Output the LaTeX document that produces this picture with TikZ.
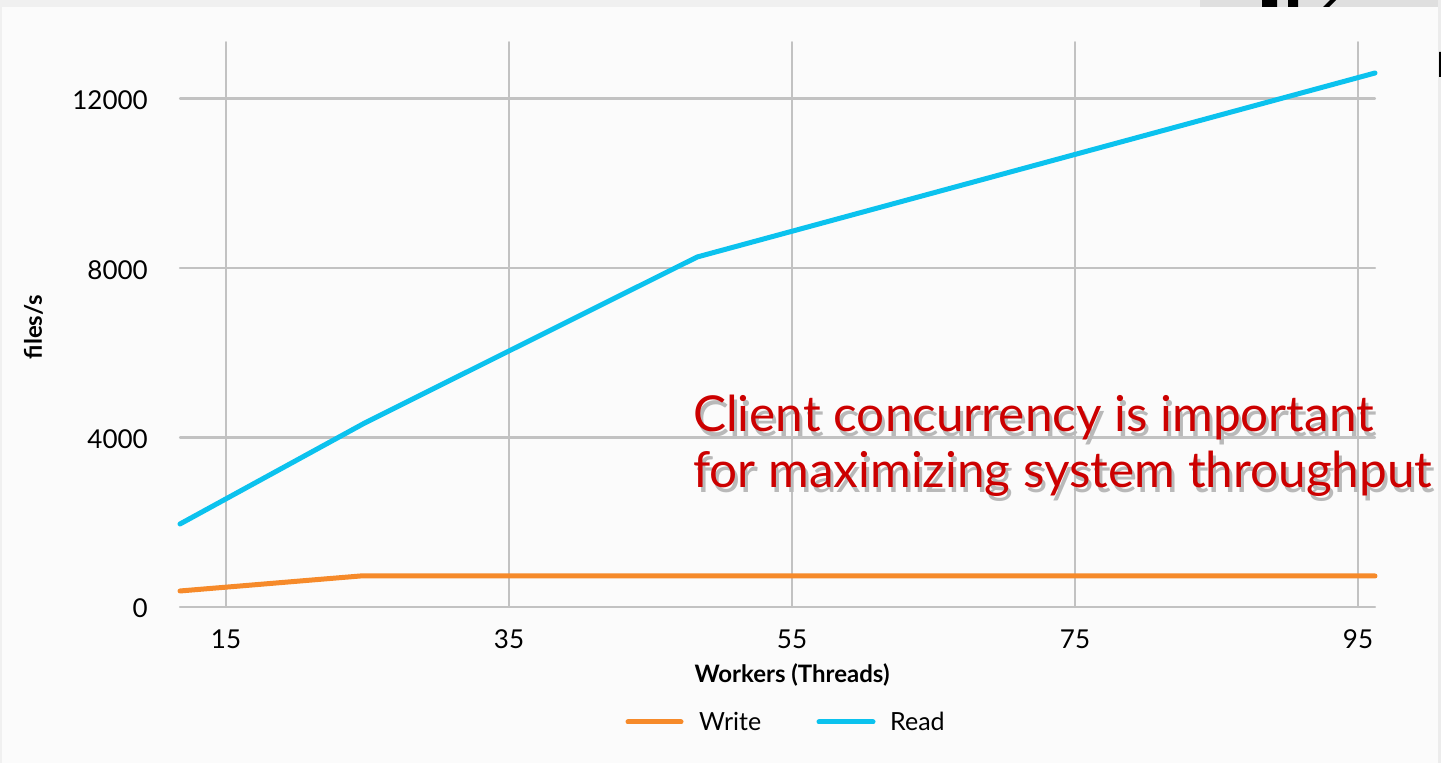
\documentclass[tikz,border=0pt]{standalone}
\usepackage{fontspec}
\setmainfont{Lato}
\definecolor{readc}{HTML}{0BC2EE}
\definecolor{writec}{HTML}{F68A2A}
\definecolor{gridc}{HTML}{C2C2C2}
\definecolor{notec}{HTML}{CC0000}
\definecolor{panelc}{HTML}{FBFBFB}
\tikzset{
  gridline/.style={gridc, line width=2.2pt},
  readline/.style={readc, line width=5pt},
  writeline/.style={writec, line width=5pt},
  ticklabel/.style={inner sep=0pt, font=\fontsize{26}{30}\selectfont},
  axistitle/.style={inner sep=0pt, font=\bfseries\fontsize{24}{28}\selectfont},
  note/.style={inner sep=0pt, align=left, anchor=base west, font=\fontsize{49.5}{56}\selectfont}
}
\begin{document}
\begin{tikzpicture}[x=1pt,y=1pt,line join=round,line cap=round]
	\useasboundingbox (0,0) rectangle (1441,763);
	\fill[gray!12] (0,0) rectangle (1441,763);
	\fill[gray!25] (1200,756) rectangle (1441,763);
	\fill[gray!15] (1438,0) rectangle (1441,763);
	\fill[black] (1262,756) rectangle (1277,763) (1288,756) rectangle (1298,763)
		(1323,756) -- (1330,763) -- (1336,763) -- (1329,756) -- cycle;
	\fill[black] (1439,686) rectangle (1441,711) (1439,701) rectangle (1441,704);
	\fill[panelc] (2,0) rectangle (1438,756);
	\begin{scope}[shift={(13.75,156)},x=14.15pt,y=0.042375pt]
	% grid
	\foreach \t in {15,35,55,75,95}{
		\draw[gridline] (\t,0) -- (\t,13330);
		\node[ticklabel, anchor=base, yshift=-42pt] (xt\t) at (\t,0) {\t};
	}
	\foreach \v in {0,4000,8000,12000}{
		\draw[gridline] (11.75,\v) -- (96.2,\v);
		\node[ticklabel, anchor=base east, xshift=-32pt, yshift=-11pt] (yt\v) at (11.75,\v) {\v};
	}
	% series
	\draw[writeline] (11.75,378) -- (24.5,732) -- (96.2,732);
	\draw[readline] (11.75,1959) -- (24.8,4342) -- (48.3,8260) -- (96.2,12602);
	\node[axistitle, anchor=base, yshift=-76pt] (xtitle) at (55,0) {Workers (Threads)};
	\end{scope}
	\node[axistitle, rotate=90, anchor=base] (ytitle) at (42,436) {files/s};
	% legend
	\coordinate (w1) at (628,41);
	\coordinate (w2) at (681,41);
	\coordinate (r1) at (819,41);
	\coordinate (r2) at (873,41);
	\draw[writeline] (w1) -- (w2);
	\draw[readline] (r1) -- (r2);
	\node[ticklabel, anchor=base west, font=\fontsize{25}{30}\selectfont] (wlabel) at (699,32) {Write};
	\node[ticklabel, anchor=base west, font=\fontsize{25}{30}\selectfont] (rlabel) at (890,32) {Read};
	% annotation with drop shadow
	\node[note, gray!55] (noteshadow) at (696,270) {Client concurrency is important\\for maximizing system throughput};
	\node[note, notec] (notetext) at (693,275) {Client concurrency is important\\for maximizing system throughput};
\end{tikzpicture}
\end{document}
